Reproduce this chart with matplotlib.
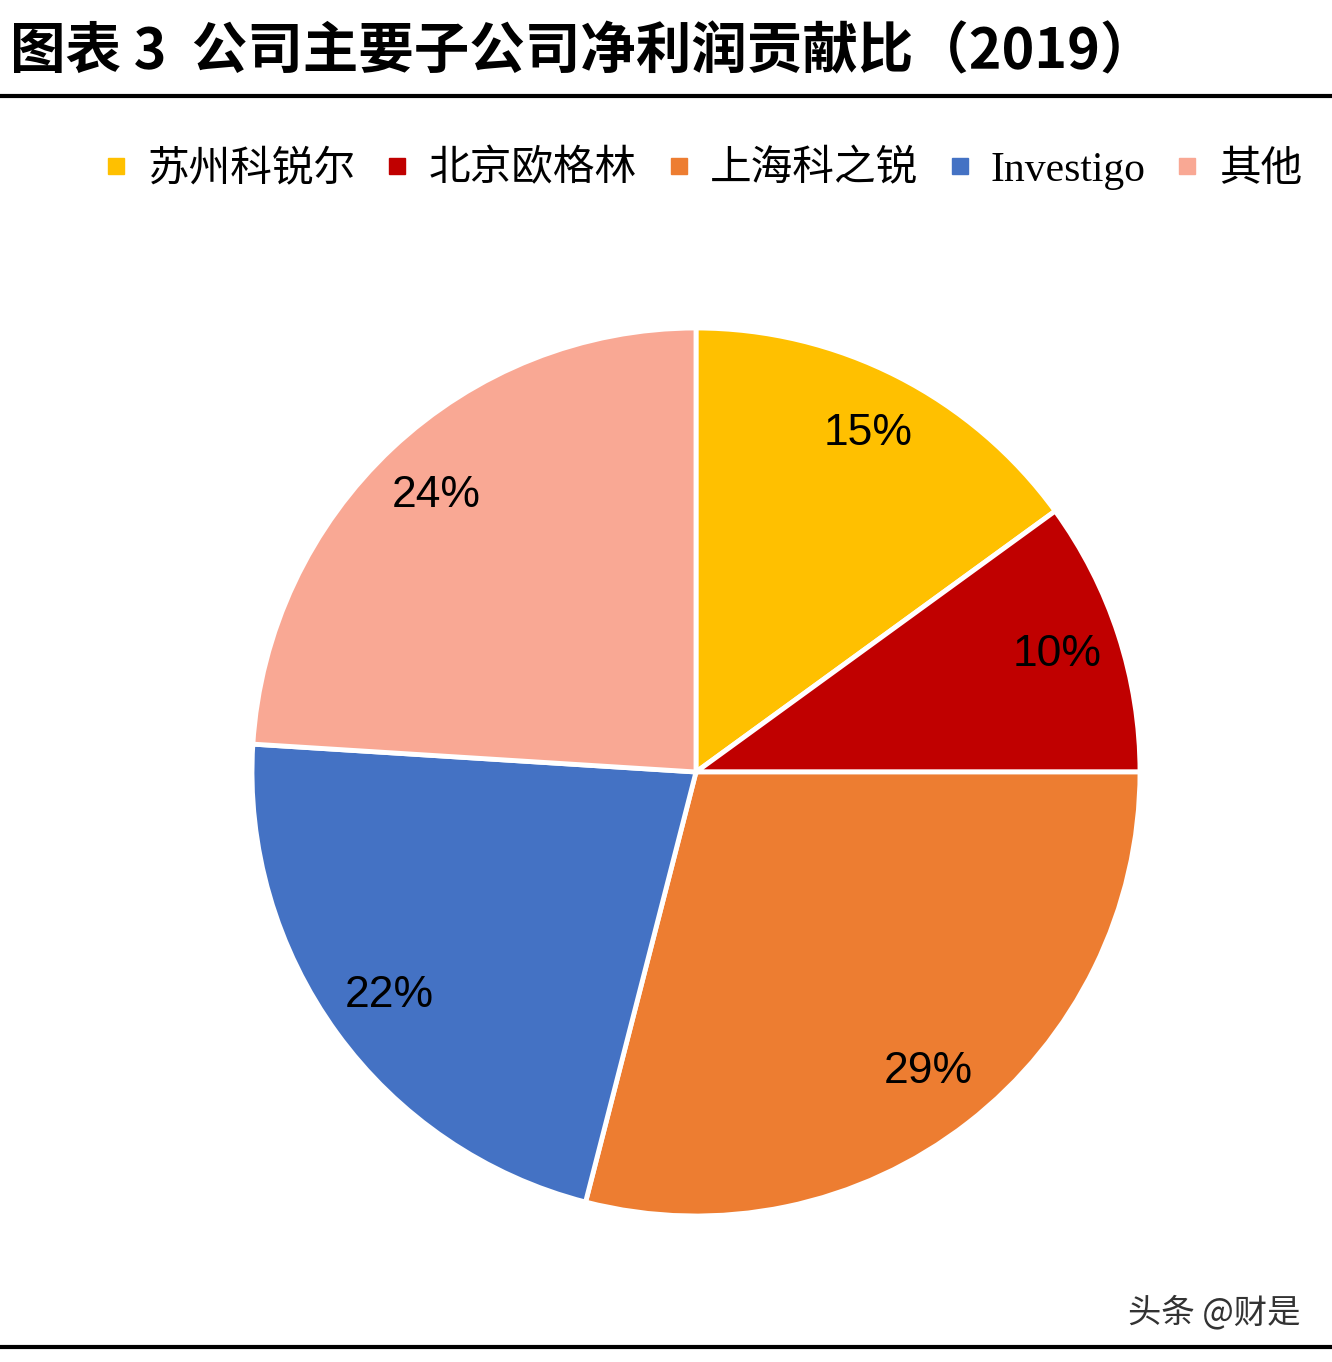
import numpy as np
import matplotlib.pyplot as plt
from matplotlib.lines import Line2D

# Datos
companies = ["苏州科锐尔", "北京欧格林", "上海科之锐", "Investigo", "其他"]
shares = [15, 10, 29, 22, 24]
colors = ["#FFC000", "#C00000", "#ED7D31", "#4472C4", "#F9A894"]
title = "图表 3  公司主要子公司净利润贡献比（2019）"
source = "头条 @财是"

W, H = 1332, 1362
fig = plt.figure(figsize=(W / 100, H / 100), dpi=100)
fig.patch.set_facecolor("white")

# Título y líneas
fig.text(10 / W, 1 - 52 / H, title, fontsize=40, fontweight="heavy",
         family=["Noto Sans CJK SC", "DejaVu Sans"], va="center", ha="left")
fig.add_artist(Line2D([0, 1], [1 - 96 / H, 1 - 96 / H], color="black", lw=3,
                      transform=fig.transFigure))
fig.add_artist(Line2D([0, 1], [1 - 1347 / H, 1 - 1347 / H], color="black", lw=3,
                      transform=fig.transFigure))
fig.text(1300 / W, 1 - 1313 / H, source, fontsize=24, color="#333333",
         family=["Noto Sans CJK SC", "DejaVu Sans"], va="center", ha="right")

# Pastel
cx, cy, r = 696, 772, 444
ax = fig.add_axes([(cx - r) / W, (H - cy - r) / H, 2 * r / W, 2 * r / H])
wedges, texts, autotexts = ax.pie(
    shares, colors=colors, startangle=90, counterclock=False,
    autopct="%d%%", pctdistance=0.855, radius=1,
    wedgeprops=dict(edgecolor="white", linewidth=3.5),
    textprops=dict(fontsize=32, family="Liberation Sans", color="black"))
ax.set_xlim(-1.0, 1.0)
ax.set_ylim(-1.0, 1.0)
ax.set_aspect("auto")

# Leyenda
handles = [Line2D([], [], marker="s", linestyle="none", markersize=11,
                  markerfacecolor=c, markeredgecolor=c) for c in colors]
fig.legend(handles, companies, loc="center", ncol=5,
           bbox_to_anchor=(704 / W, 1 - 170 / H), frameon=False,
           prop=dict(family=["Liberation Serif", "Noto Sans CJK SC"], size=30),
           handlelength=0.5, handletextpad=0.5, columnspacing=0.75)

fig.savefig("out.png", dpi=100)
